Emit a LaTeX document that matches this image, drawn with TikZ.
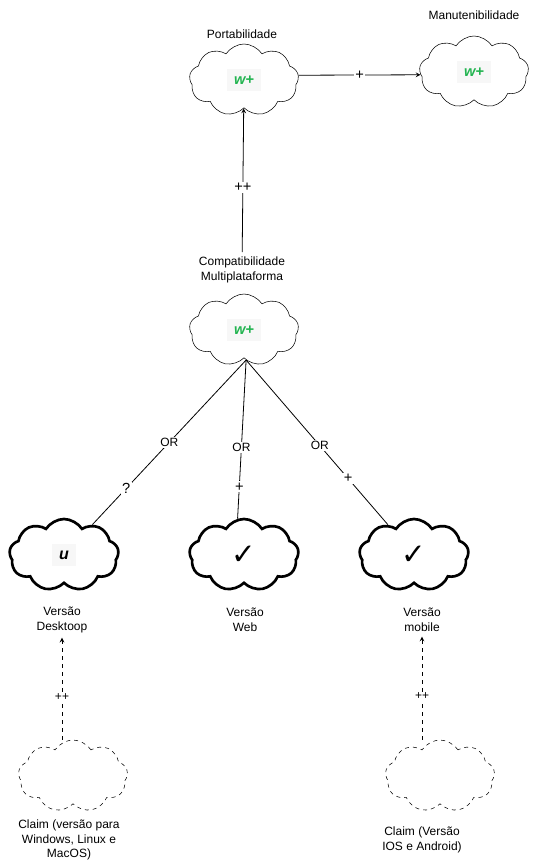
\documentclass[tikz,border=0pt]{standalone}
\usepackage{fontspec}
\setmainfont{Liberation Sans}
\newfontfamily\simbolo{DejaVu Sans}
\usepackage{xcolor}
\usetikzlibrary{shapes.symbols}

\definecolor{verdew}{RGB}{34,180,80}
\newcommand{\wmais}{{\setlength{\fboxsep}{5pt}\colorbox{gray!6}{\fontsize{11}{11}\selectfont\color{verdew}\bfseries\itshape w+}}}
\newcommand{\umarca}{{\setlength{\fboxsep}{5pt}\colorbox{gray!6}{\fontsize{12}{12}\selectfont\bfseries\itshape u}}}
\newcommand{\certo}{{\simbolo\fontsize{22}{22}\selectfont ✓}}

\begin{document}
\begin{tikzpicture}[
            x = 0.75pt, y = -0.75pt, % pixel grid
            > = stealth, % arrow head style
            semithick, % line style
            every node/.style = {font=\fontsize{9}{11}\selectfont, align=center},
            nuvem/.style = {cloud, cloud puffs=9, cloud puff arc=115, aspect=1.6,
                            draw=black, thin, inner sep=1pt,
                            minimum width=82pt, minimum height=54pt},
            rotulo/.style = {fill=white, inner sep=1pt},
            sinal/.style = {fill=white, inner sep=1pt, font=\fontsize{11}{11}\selectfont}
        ]
\useasboundingbox (0,0) rectangle (533,862);

% softgoals
\node[nuvem] (port) at (244,80) {\wmais};
\node (portlbl) at (242,34) {Portabilidade};
\node[nuvem] (manut) at (474,72) {\wmais};
\node (manutlbl) at (474,15) {Manutenibilidade};
\node[nuvem] (compat) at (244,330) {\wmais};
\node (compatlbl) at (242,270) {Compatibilidade\\Multiplataforma};

% versoes
\node[nuvem, line width=2pt] (dsk) at (64,555) {\umarca};
\node (dsklbl) at (62,620) {Versão\\Desktoop};
\node[nuvem, line width=2pt] (web) at (244,555) {\certo};
\node (weblbl) at (245,620) {Versão\\Web};
\node[nuvem, line width=2pt] (mob) at (414,555) {\certo};
\node (moblbl) at (422,620) {Versão\\mobile};

% claims
\node[nuvem, dashed] (clmA) at (73,776) {};
\node (clmAlbl) at (69,840) {Claim (versão para\\Windows, Linux e\\MacOS)};
\node[nuvem, dashed] (clmB) at (440,776) {};
\node (clmBlbl) at (422,840) {Claim (Versão\\IOS e Android)};

 \path [->] (port.5) edge node[sinal] {+} (manut.183);
 \path [->] (compatlbl) edge node[sinal, pos=0.45] {++} (port);

 \path (compat.-86) edge node[rotulo, pos=0.5] {OR} node[sinal, pos=0.78] {?} (dsk);
 \path (compat.-86) edge node[rotulo, pos=0.55] {OR} node[sinal, pos=0.8] {+} (web.100);
 \path (compat.-86) edge node[rotulo, pos=0.52] {OR} node[sinal, pos=0.72] {+} (mob);

 \path [->, dashed] (dsklbl |- clmA.north) edge node[rotulo, pos=0.42] {++} (dsklbl);
 \path [->, dashed] (moblbl |- clmB.north) edge node[rotulo, pos=0.42] {++} (moblbl);
\end{tikzpicture}
\end{document}
